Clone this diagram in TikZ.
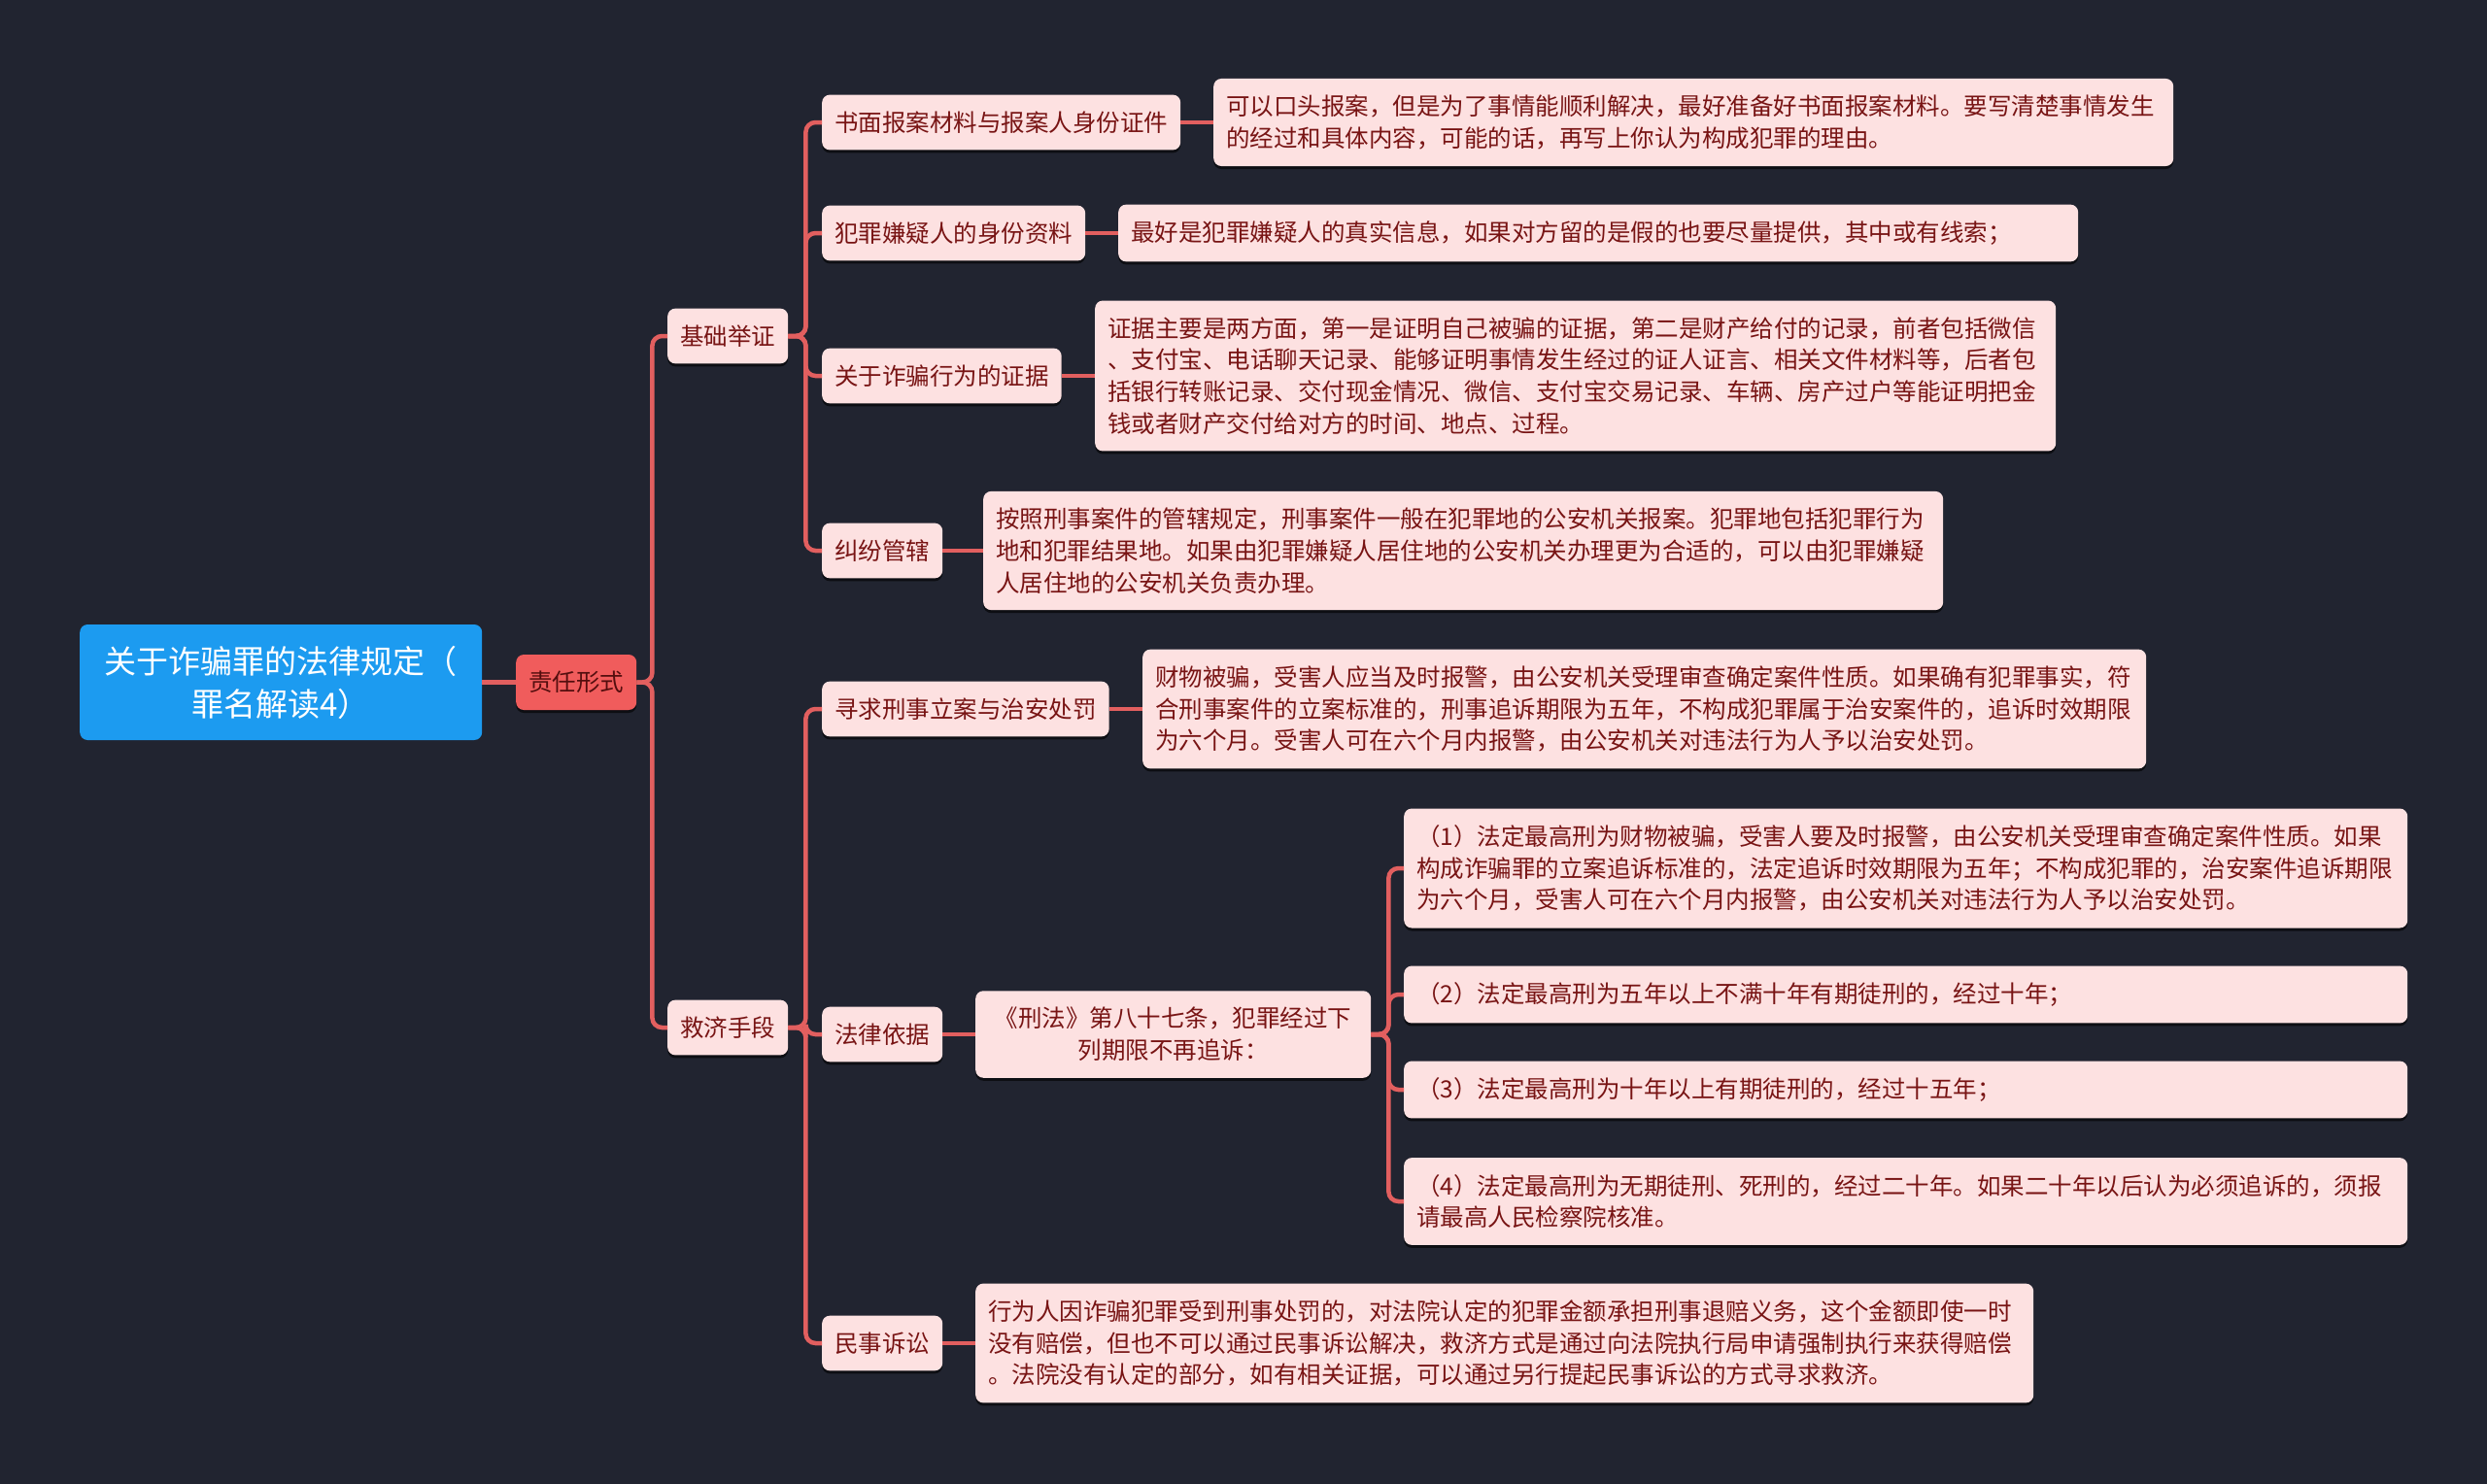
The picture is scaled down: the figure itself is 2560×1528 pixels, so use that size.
\documentclass[tikz,border=0pt]{standalone}
\usepackage{fontspec}
\setmainfont{Noto Sans CJK SC}
\usetikzlibrary{positioning, shadows}
\definecolor{bgdark}{RGB}{33, 36, 48}
\definecolor{rootblue}{RGB}{28, 155, 240}
\definecolor{labelred}{RGB}{240, 92, 92}
\definecolor{pinkbox}{RGB}{253, 225, 225}
\definecolor{textred}{RGB}{120, 20, 20}
\definecolor{linkred}{RGB}{226, 95, 95}

\tikzset{
  link/.style={draw=linkred, line width=4.5pt, rounded corners=10pt},
  topic/.style={rounded corners=8pt, fill=pinkbox, text=textred, anchor=west,
    inner xsep=13pt, inner ysep=17pt, font=\fontsize{24.5}{32.7}\selectfont,
    drop shadow={shadow xshift=0pt, shadow yshift=-3pt, fill=black, opacity=.6}},
  leaf/.style={topic, align=left, text width=#1},
}

\begin{document}
\begin{tikzpicture}[x=1pt, y=-1pt]
  % 背景
  \fill[bgdark] (0,0) rectangle (2560,1528);
  \useasboundingbox (0,0) rectangle (2560,1528);

  % 中心主题
  \node[fill=rootblue, text=white, rounded corners=8pt, anchor=west, align=center,
    minimum width=414pt, minimum height=119pt, font=\fontsize{33}{44}\selectfont]
    (root) at (82,702.5) {关于诈骗罪的法律规定（\\罪名解读4）};
  \node[topic, fill=labelred, text=textred!70!black, minimum height=57pt] (zrxs) at (531,702.5) {责任形式};

  % 二级主题
  \node[topic] (jczz) at (687,346) {基础举证};
  \node[topic] (jjsd) at (687,1058) {救济手段};

  % 基础举证
  \node[topic] (sm) at (846,126) {书面报案材料与报案人身份证件};
  \node[topic] (fz) at (846,240) {犯罪嫌疑人的身份资料};
  \node[topic] (zj) at (846,387) {关于诈骗行为的证据};
  \node[topic] (gx) at (846,567) {纠纷管辖};

  \node[leaf=962pt] (smx) at (1249,126) {可以口头报案，但是为了事情能顺利解决，最好准备好书面报案材料。要写清楚事情发生\\的经过和具体内容，可能的话，再写上你认为构成犯罪的理由。};
  \node[leaf=962pt] (fzx) at (1151,240) {最好是犯罪嫌疑人的真实信息，如果对方留的是假的也要尽量提供，其中或有线索；};
  \node[leaf=963pt] (zjx) at (1127,387) {证据主要是两方面，第一是证明自己被骗的证据，第二是财产给付的记录，前者包括微信\\、支付宝、电话聊天记录、能够证明事情发生经过的证人证言、相关文件材料等，后者包\\括银行转账记录、交付现金情况、微信、支付宝交易记录、车辆、房产过户等能证明把金\\钱或者财产交付给对方的时间、地点、过程。};
  \node[leaf=962pt] (gxx) at (1012,567) {按照刑事案件的管辖规定，刑事案件一般在犯罪地的公安机关报案。犯罪地包括犯罪行为\\地和犯罪结果地。如果由犯罪嫌疑人居住地的公安机关办理更为合适的，可以由犯罪嫌疑\\人居住地的公安机关负责办理。};

  % 救济手段
  \node[topic] (xq) at (846,730) {寻求刑事立案与治安处罚};
  \node[topic] (yj) at (846,1065) {法律依据};
  \node[topic] (ms) at (846,1383) {民事诉讼};

  \node[leaf=1007pt] (xqx) at (1176,730) {财物被骗，受害人应当及时报警，由公安机关受理审查确定案件性质。如果确有犯罪事实，符\\合刑事案件的立案标准的，刑事追诉期限为五年，不构成犯罪属于治安案件的，追诉时效期限\\为六个月。受害人可在六个月内报警，由公安机关对违法行为人予以治安处罚。};
  \node[topic, align=center, minimum width=407pt] (xf) at (1004,1065) {《刑法》第八十七条，犯罪经过下\\列期限不再追诉：};
  \node[leaf=1063pt] (msx) at (1004,1383) {行为人因诈骗犯罪受到刑事处罚的，对法院认定的犯罪金额承担刑事退赔义务，这个金额即使一时\\没有赔偿，但也不可以通过民事诉讼解决，救济方式是通过向法院执行局申请强制执行来获得赔偿\\。法院没有认定的部分，如有相关证据，可以通过另行提起民事诉讼的方式寻求救济。};

  % 追诉期限
  \node[leaf=1007pt] (t1) at (1445,894) {（1）法定最高刑为财物被骗，受害人要及时报警，由公安机关受理审查确定案件性质。如果\\构成诈骗罪的立案追诉标准的，法定追诉时效期限为五年；不构成犯罪的，治安案件追诉期限\\为六个月，受害人可在六个月内报警，由公安机关对违法行为人予以治安处罚。};
  \node[leaf=1007pt] (t2) at (1445,1024) {（2）法定最高刑为五年以上不满十年有期徒刑的，经过十年；};
  \node[leaf=1007pt] (t3) at (1445,1122) {（3）法定最高刑为十年以上有期徒刑的，经过十五年；};
  \node[leaf=1007pt] (t4) at (1445,1237) {（4）法定最高刑为无期徒刑、死刑的，经过二十年。如果二十年以后认为必须追诉的，须报\\请最高人民检察院核准。};

  % 连线
  \draw[link] (root.east) -- (zrxs.west);
  \foreach \c in {jczz,jjsd} \draw[link] (zrxs.east) -- ++(16,0) |- (\c.west);
  \foreach \c in {sm,fz,zj,gx} \draw[link] (jczz.east) -- ++(18,0) |- (\c.west);
  \foreach \c in {xq,yj,ms} \draw[link] (jjsd.east) -- ++(18,0) |- (\c.west);
  \foreach \c in {t1,t2,t3,t4} \draw[link] (xf.east) -- ++(18,0) |- (\c.west);
  \draw[link] (sm.east) -- (smx.west);
  \draw[link] (fz.east) -- (fzx.west);
  \draw[link] (zj.east) -- (zjx.west);
  \draw[link] (gx.east) -- (gxx.west);
  \draw[link] (xq.east) -- (xqx.west);
  \draw[link] (yj.east) -- (xf.west);
  \draw[link] (ms.east) -- (msx.west);
\end{tikzpicture}
\end{document}
